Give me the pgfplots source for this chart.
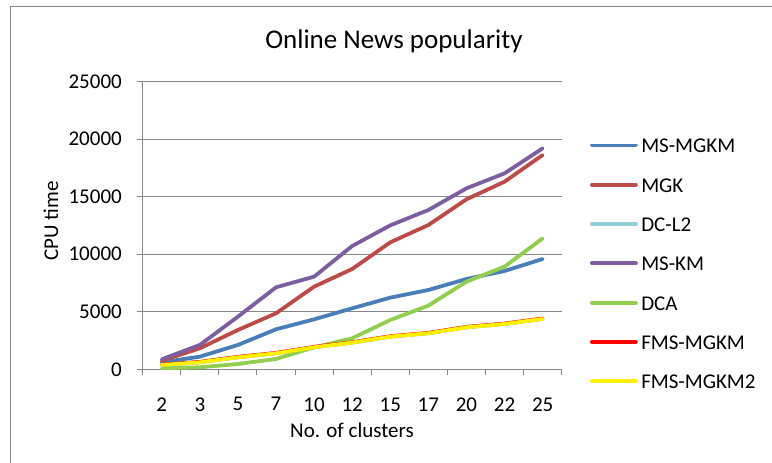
\documentclass[border=0pt]{standalone}
\usepackage{fontspec}
\setmainfont{Carlito}
\usepackage{pgfplots}
\pgfplotsset{compat=1.18}
\definecolor{cBlue}{HTML}{4A7EBB}
\definecolor{cRed}{HTML}{BE4B48}
\definecolor{cLBlue}{HTML}{93CDDD}
\definecolor{cPurple}{HTML}{7D5FA0}
\definecolor{cGreen}{HTML}{92CF50}
\definecolor{cAxis}{HTML}{868686}
\begin{document}
\begin{tikzpicture}
\useasboundingbox (0,0) rectangle (772pt,463pt);
\draw[cAxis, line width=1pt] (10pt,0pt) -- (10pt,456pt) -- (771.5pt,456pt);
\node[font=\fontsize{27}{32}\selectfont, anchor=base] at (394pt,414pt) {Online News popularity};
\node[font=\fontsize{21}{25}\selectfont] at (352pt,33pt) {No. of clusters};
\node[font=\fontsize{21}{25}\selectfont, rotate=90] at (51pt,242pt) {CPU time};
\begin{axis}[
  at={(142.7pt,93.7pt)}, anchor=south west,
  scale only axis, width=419pt, height=287.6pt,
  xmin=-0.5, xmax=10.5, ymin=0, ymax=25000,
  axis x line=bottom, axis y line=left,
  axis line style={-, cAxis, line width=1pt},
  xtick={0,...,10},
  xticklabels={2,3,5,7,10,12,15,17,20,22,25},
  xtick style={draw=none},
  extra x ticks={-0.5,0.5,...,10.5},
  extra x tick labels={},
  extra x tick style={xtick style={draw=cAxis, line width=1pt}, grid=none},
  ytick={0,5000,...,25000},
  ytick style={draw=cAxis, line width=1pt},
  tick align=outside, major tick length=6pt,
  ymajorgrids, grid style={cAxis, line width=1pt},
  scaled y ticks=false,
  /pgf/number format/assume math mode=true,
  yticklabel style={/pgf/number format/1000 sep={}, font=\fontsize{21}{25}\selectfont, inner sep=0pt, anchor=east, xshift=-14.7pt},
  xticklabel style={font=\fontsize{21}{25}\selectfont, inner sep=0pt, anchor=north, yshift=-22pt},
  clip=false,
  every axis plot/.append style={line width=3.8pt, line join=round, line cap=round},
  legend style={at={(1.067,0.805)}, anchor=north west, draw=none, fill=none, inner sep=0pt,
    row sep=24.3pt, font=\fontsize{21}{25}\selectfont,
    nodes={inner sep=0pt, text height=15pt, text depth=0pt, anchor=west}},
  legend cell align=left,
  legend image code/.code={\draw[#1, line width=3.8pt, line cap=round] (0pt,0pt) -- (44pt,0pt);},
]
\addplot[cBlue] coordinates {(0,608) (1,1100) (2,2115) (3,3476) (4,4345) (5,5301) (6,6228) (7,6894) (8,7850) (9,8546) (10,9589)};
\addlegendentry{\,MS-MGKM}
\addplot[cRed] coordinates {(0,753) (1,1825) (2,3418) (3,4867) (4,7184) (5,8720) (6,11037) (7,12543) (8,14774) (9,16309) (10,18627)};
\addlegendentry{\,MGK}
\addplot[cLBlue] coordinates {(0,377) (1,608) (2,1043) (3,1390) (4,1912) (5,2317) (6,2839) (7,3129) (8,3650) (9,3940) (10,4374)};
\addlegendentry{\,DC-L2}
\addplot[cPurple] coordinates {(0,870) (1,2115) (2,4577) (3,7126) (4,8053) (5,10718) (6,12514) (7,13847) (8,15730) (9,17034) (10,19206)};
\addlegendentry{\,MS-KM}
\addplot[cGreen] coordinates {(0,87) (1,174) (2,463) (3,898) (4,1912) (5,2694) (6,4287) (7,5533) (8,7619) (9,8922) (10,11385)};
\addlegendentry{\,DCA}
\addplot[red] coordinates {(0,412) (1,643) (2,1078) (3,1425) (4,1947) (5,2352) (6,2874) (7,3164) (8,3685) (9,3975) (10,4409)};
\addlegendentry{\,FMS-MGKM}
\addplot[yellow] coordinates {(0,377) (1,608) (2,1043) (3,1390) (4,1912) (5,2317) (6,2839) (7,3129) (8,3650) (9,3940) (10,4374)};
\addlegendentry{\,FMS-MGKM2}
\end{axis}
\end{tikzpicture}
\end{document}
